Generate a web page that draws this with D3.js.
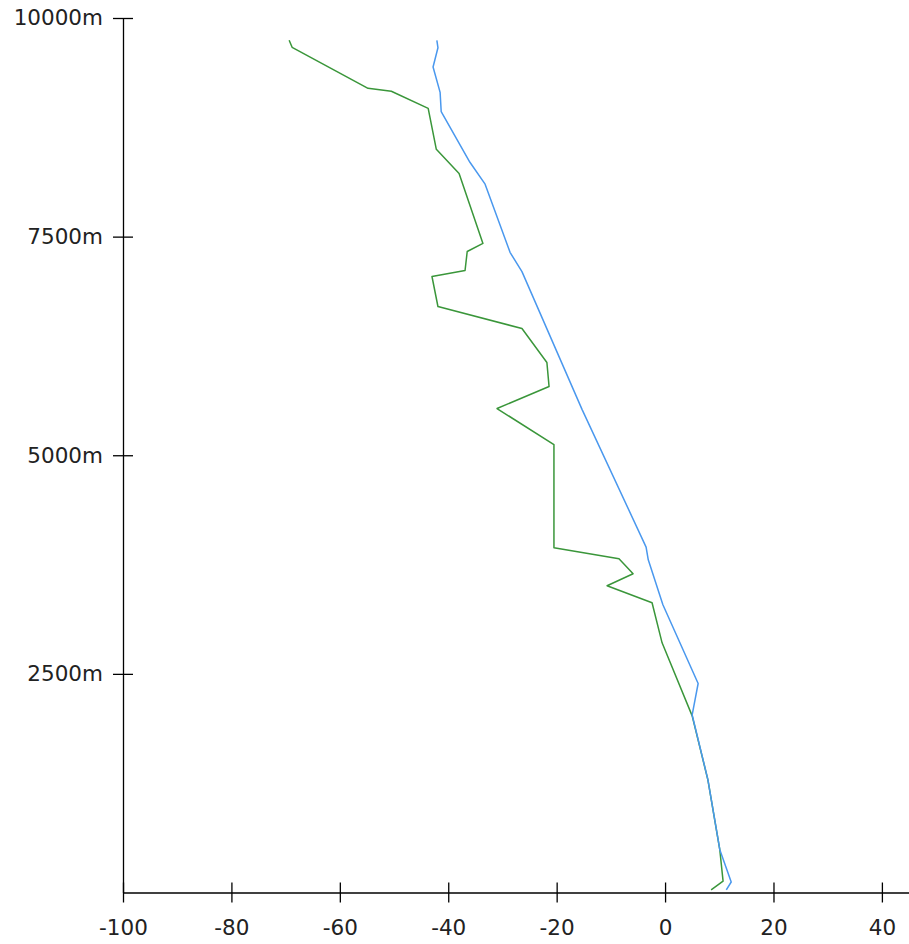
<!DOCTYPE html>
<html>
<head>
<meta charset="utf-8">
<script src="https://cdn.jsdelivr.net/npm/d3@7"></script>
<style>
  html, body { margin: 0; padding: 0; background: #fff; }
  svg { display: block; }
  .axis text { font-family: "DejaVu Sans", Verdana, sans-serif; font-size: 21.5px; fill: #222; }
  .axis path, .axis line { stroke: #000; stroke-width: 1.3; }
</style>
</head>
<body>
<svg id="chart" width="909" height="944"></svg>
<script>
// Temperature profile (blue): altitude (m) and value
const tempAlt = [30, 120, 490, 1290, 2030, 2390, 3290, 3805, 3950, 5522, 7100, 7320, 8100, 8350, 8930, 9150, 9440, 9660, 9745];
const tempVal = [11.3, 12.2, 10.1, 7.9, 5.0, 6.1, -0.4, -3.1, -3.5, -15.3, -26.4, -28.6, -33.2, -36.0, -41.3, -41.5, -42.8, -41.9, -42.1];

// Dew point profile (green): altitude (m) and value
const dewAlt = [30, 130, 486, 1288, 2020, 2855, 3313, 3508, 3645, 3817, 3943, 5122, 5534, 5786, 6060, 6449, 6701, 7044, 7113, 7330, 7422, 8223, 8498, 8967, 9162, 9196, 9665, 9745];
const dewVal = [8.5, 10.7, 10.1, 7.9, 5.0, -0.55, -2.4, -10.7, -5.9, -8.5, -20.5, -20.5, -31.0, -21.4, -21.8, -26.4, -41.9, -43.0, -36.9, -36.5, -33.6, -38.0, -42.2, -43.7, -50.5, -54.8, -68.8, -69.35];

// Axis ticks
const xTicks = [-100, -80, -60, -40, -20, 0, 20, 40];
const yTicks = [2500, 5000, 7500, 10000];

(function () {
  const svg = d3.select("#chart");
  const mLeft = 123, mRight = 909, mTop = 18, mBottom = 892.5;

  const x = d3.scaleLinear().domain([-100, 45]).range([mLeft, mRight]);
  const y = d3.scaleLinear().domain([0, 10000]).range([mBottom, mTop]);

  // X axis
  const gx = svg.append("g")
    .attr("class", "axis")
    .attr("transform", `translate(0,${mBottom})`)
    .call(d3.axisBottom(x).tickValues(xTicks).tickFormat(d => String(d)).tickSize(10).tickSizeOuter(0));
  gx.selectAll(".tick line").attr("y1", -10).attr("y2", 10);
  gx.selectAll(".tick text").attr("y", 27).attr("dy", "0.71em");

  // Y axis
  const gy = svg.append("g")
    .attr("class", "axis")
    .attr("transform", `translate(${mLeft},0)`)
    .call(d3.axisLeft(y).tickValues(yTicks).tickFormat(d => d + "m").tickSize(10).tickSizeOuter(0));
  gy.selectAll(".tick line").attr("x1", -10).attr("x2", 10);
  gy.selectAll(".tick text").attr("x", -20);

  const line = d3.line().x(d => x(d[1])).y(d => y(d[0]));

  svg.append("path")
    .datum(d3.zip(dewAlt, dewVal))
    .attr("fill", "none")
    .attr("stroke", "#3a963a")
    .attr("stroke-width", 1.5)
    .attr("stroke-linejoin", "round")
    .attr("d", line);

  svg.append("path")
    .datum(d3.zip(tempAlt, tempVal))
    .attr("fill", "none")
    .attr("stroke", "#4a98ee")
    .attr("stroke-width", 1.5)
    .attr("stroke-linejoin", "round")
    .attr("d", line);
})();
</script>
</body>
</html>
